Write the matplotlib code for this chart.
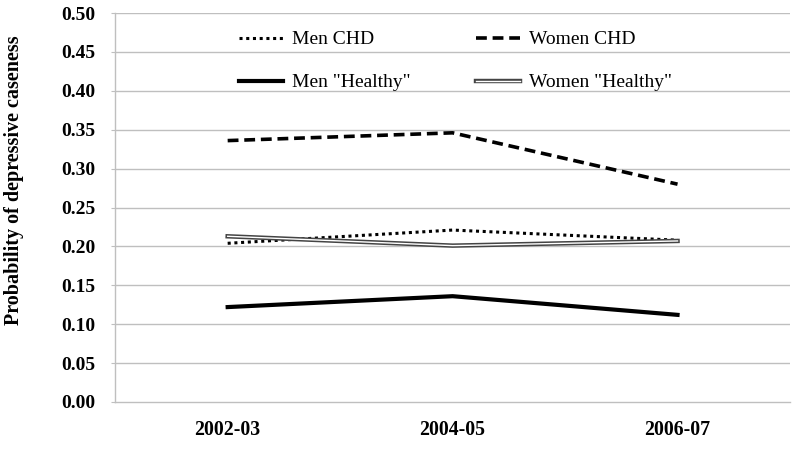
"""Probability of depressive caseness by survey wave, CHD vs "healthy" adults."""

import matplotlib
matplotlib.use("Agg")
import matplotlib.pyplot as plt
import matplotlib.patheffects as pe

waves = ["2002-03", "2004-05", "2006-07"]
men_chd = [0.204, 0.221, 0.208]
women_chd = [0.336, 0.346, 0.280]
men_healthy = [0.122, 0.136, 0.112]
women_healthy = [0.213, 0.201, 0.207]
y_ticks = [0.00, 0.05, 0.10, 0.15, 0.20, 0.25, 0.30, 0.35, 0.40, 0.45, 0.50]

plt.rcParams.update(
    {
        "font.family": ["Liberation Serif", "DejaVu Serif"],
        "axes.edgecolor": "#bfbfbf",
        "axes.linewidth": 1.0,
    }
)

fig = plt.figure(figsize=(8, 4.49), dpi=100)
ax = fig.add_axes([0.144, 0.1047, 0.8435, 0.8663])

x = list(range(len(waves)))

# Grid first so the series sit on top
for v in y_ticks[1:]:
    ax.axhline(v, color="#bfbfbf", linewidth=1.0, zorder=1)

ax.plot(x, men_chd, color="black", linewidth=2.2, dashes=(1, 1.2),
        label="Men CHD", zorder=3)
ax.plot(x, men_healthy, color="black", linewidth=3.0, solid_joinstyle="miter",
        label='Men "Healthy"', zorder=3)
ax.plot(x, women_chd, color="black", linewidth=2.6, dashes=(3, 1.6),
        label="Women CHD", zorder=3)
ax.plot(
    x,
    women_healthy,
    color="white",
    linewidth=1.0,
    label='Women "Healthy"',
    zorder=3,
    path_effects=[pe.Stroke(linewidth=3.2, foreground="#444444"), pe.Normal()],
)

ax.set_xlim(-0.5, 2.5)
ax.set_ylim(0, 0.5)
ax.set_xticks(x)
ax.set_xticklabels(waves, fontsize=14.3, fontweight="bold")
ax.set_yticks(y_ticks)
ax.set_yticklabels([f"{v:.2f}" for v in y_ticks], fontsize=14, fontweight="bold")
ax.tick_params(axis="x", length=0, pad=13)
ax.tick_params(axis="y", length=3, color="#bfbfbf", pad=11)

for side in ("top", "right"):
    ax.spines[side].set_visible(False)

ax.set_ylabel("Probability of depressive caseness", fontsize=14.5, fontweight="bold")
ax.yaxis.label.set_verticalalignment("center")
ax.yaxis.set_label_coords(-0.1496, 0.571)

handles, labels = ax.get_legend_handles_labels()
ax.legend(
    handles,
    labels,
    ncol=2,
    frameon=False,
    fontsize=14,
    handlelength=2.25,
    handletextpad=0.45,
    columnspacing=3.4,
    labelspacing=1.3,
    borderpad=0,
    loc="center",
    bbox_to_anchor=(0.5695, 0.864),
    bbox_transform=fig.transFigure,
)

fig.savefig("out.png", dpi=100, facecolor="white")
plt.close(fig)
